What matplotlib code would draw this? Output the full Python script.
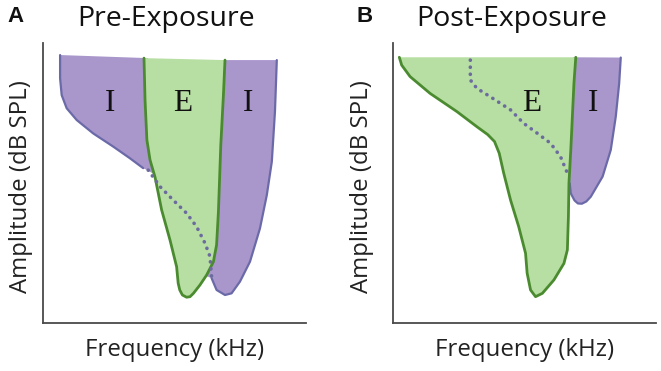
import numpy as np
import matplotlib
matplotlib.use("Agg")
import matplotlib.pyplot as plt

# ---------------- data (schematic tuning curves, arbitrary units 0-100) ----------------
# Panel A: Pre-Exposure
a_exc_left_f = [38.4, 38.8, 39.5, 40.7, 42.6, 45.1, 48.3, 50.8, 51.4, 52.0, 53.0, 54.6]
a_exc_left_a = [94.6, 79.6, 65.4, 58.2, 52.1, 40.4, 29.6, 20.1, 14.2, 11.8, 10.0, 9.2]
a_exc_right_f = [55.9, 57.2, 59.7, 62.2, 64.8, 66.0, 66.7, 67.6, 68.6, 69.2]
a_exc_right_a = [9.4, 10.6, 13.6, 17.1, 21.9, 27.9, 39.8, 63.6, 81.4, 93.9]

a_inh_low_f = [6.5, 6.5, 7.1, 9.0, 12.8, 19.1, 26.7, 33.1, 38.1, 40.0]
a_inh_low_a = [95.7, 87.4, 81.4, 76.7, 72.5, 67.7, 63.0, 58.8, 55.3, 54.4]

a_inh_high_f = [64.1, 66.0, 69.2, 71.7, 74.9, 78.7, 82.5, 85.1, 87.0, 88.2, 88.9]
a_inh_high_a = [16.0, 11.8, 10.0, 10.6, 14.8, 21.9, 33.8, 45.7, 57.6, 75.5, 93.9]

a_hidden_f = [40.0, 44.5, 49.5, 54.6, 58.4, 61.6, 63.5, 64.1]
a_hidden_a = [54.6, 48.7, 43.9, 39.2, 34.4, 28.5, 23.7, 16.5]

# Panel B: Post-Exposure
b_exc_left_f = [2.4, 3.3, 6.5, 14.1, 24.3, 31.9, 36.0, 38.6, 40.4, 42.1, 44.7, 47.8, 50.4, 51.0, 52.3, 54.2]
b_exc_left_a = [94.9, 92.1, 88.0, 82.0, 75.5, 70.1, 67.3, 64.8, 60.6, 53.5, 43.9, 34.4, 24.9, 17.8, 11.8, 9.4]
b_exc_right_f = [56.8, 61.2, 65.0, 66.3, 66.7, 66.9, 67.6, 68.2, 68.8, 69.5]
b_exc_right_a = [10.6, 15.4, 21.3, 26.1, 38.0, 49.9, 61.8, 73.7, 85.6, 94.9]

b_inh_f = [86.6, 86.0, 84.7, 82.8, 79.7, 75.2, 73.5, 71.8, 70.3, 69.0, 67.6, 67.2]
b_inh_a = [94.8, 85.6, 73.7, 61.8, 52.3, 45.1, 43.4, 42.6, 42.7, 43.8, 46.3, 49.9]

b_hidden_f = [29.4, 29.4, 31.9, 37.0, 44.7, 49.7, 54.8, 59.9, 63.7, 66.3]
b_hidden_a = [93.9, 86.8, 83.8, 80.8, 76.1, 71.3, 67.8, 64.2, 59.4, 53.5]

a_labels = ["I", "E", "I"]
a_label_f = [25.5, 53.2, 77.9]
b_labels = ["E", "I"]
b_label_f = [52.9, 75.9]
label_amp = 78.3

titles = ["Pre-Exposure", "Post-Exposure"]
panel_letters = ["A", "B"]
xlabel = "Frequency (kHz)"
ylabel = "Amplitude (dB SPL)"

# ---------------- style ----------------
PURPLE_FILL = "#a996cb"
PURPLE_LINE = "#6b6aa8"
GREEN_FILL = "#b8dfa3"
GREEN_LINE = "#4b8b30"
DOT = "#6b6b9e"
SANS = ["Open Sans", "DejaVu Sans"]
SERIF = ["Liberation Serif", "DejaVu Serif"]

W, H = 661, 371
fig = plt.figure(figsize=(W / 100, H / 100), dpi=100)

def make_ax(left_px):
    ax = fig.add_axes([left_px / W, (H - 323) / H, 263 / W, 280 / H])
    ax.set_xlim(0, 100)
    ax.set_ylim(0, 100)
    for s in ["top", "right"]:
        ax.spines[s].set_visible(False)
    for s in ["left", "bottom"]:
        ax.spines[s].set_color("#4a4a4a")
        ax.spines[s].set_linewidth(1.3)
    ax.set_xticks([])
    ax.set_yticks([])
    ax.patch.set_alpha(0)
    return ax

def dotted(ax, f, a):
    ax.plot(f, a, color=DOT, lw=2.6, linestyle=(0, (0.05, 1.9)),
            dash_capstyle="round", solid_capstyle="round", zorder=5)

def outline(ax, f, a, color, lw):
    ax.plot(f, a, color=color, lw=lw, zorder=4, solid_capstyle="round",
            solid_joinstyle="round")

axA = make_ax(43)
axB = make_ax(393)

# ---- Panel A ----
elf, ela = np.array(a_exc_left_f), np.array(a_exc_left_a)
erf, era = np.array(a_exc_right_f), np.array(a_exc_right_a)
m = ela >= 50
poly_f = list(a_inh_low_f) + list(elf[m][::-1] + 1.5)
poly_a = list(a_inh_low_a) + list(ela[m][::-1])
axA.fill(poly_f, poly_a, color=PURPLE_FILL, lw=0, zorder=1)
outline(axA, a_inh_low_f[:-1], a_inh_low_a[:-1], PURPLE_LINE, 1.6)
m = era >= 15
poly_f = list(a_inh_high_f) + list(erf[m][::-1] - 1.0)
poly_a = list(a_inh_high_a) + list(era[m][::-1])
axA.fill(poly_f, poly_a, color=PURPLE_FILL, lw=0, zorder=1)
outline(axA, a_inh_high_f, a_inh_high_a, PURPLE_LINE, 1.6)
ef = list(a_exc_left_f) + list(a_exc_right_f)
ea = list(a_exc_left_a) + list(a_exc_right_a)
axA.fill(ef, ea, color=GREEN_FILL, lw=0, zorder=2)
outline(axA, ef, ea, GREEN_LINE, 2.0)
dotted(axA, a_hidden_f, a_hidden_a)
for t, f in zip(a_labels, a_label_f):
    axA.text(f, label_amp, t, ha="center", va="center", fontsize=22.5,
             family=SERIF, color="#111111", zorder=6)

# ---- Panel B ----
erf, era = np.array(b_exc_right_f), np.array(b_exc_right_a)
m = era >= 45
poly_f = list(b_inh_f) + list(erf[m] - 1.0)
poly_a = list(b_inh_a) + list(era[m])
axB.fill(poly_f, poly_a, color=PURPLE_FILL, lw=0, zorder=1)
outline(axB, b_inh_f, b_inh_a, PURPLE_LINE, 1.6)
ef = list(b_exc_left_f) + list(b_exc_right_f)
ea = list(b_exc_left_a) + list(b_exc_right_a)
axB.fill(ef, ea, color=GREEN_FILL, lw=0, zorder=2)
outline(axB, ef, ea, GREEN_LINE, 2.0)
dotted(axB, b_hidden_f, b_hidden_a)
for t, f in zip(b_labels, b_label_f):
    axB.text(f, label_amp, t, ha="center", va="center", fontsize=22.5,
             family=SERIF, color="#111111", zorder=6)

# ---- titles and labels ----
title_x = [166, 512]
letter_x = [15, 365]
ylab_x = [21, 362]
xlab_x = [175, 525]
for i in range(2):
    fig.text(title_x[i] / W, 1 - 19 / H, titles[i], ha="center", va="center",
             fontsize=20.5, family=SANS, color="#111111")
    fig.text(letter_x[i] / W, 1 - 17 / H, panel_letters[i], ha="center",
             va="center", fontsize=16, family=["Liberation Sans", "DejaVu Sans"],
             weight="bold", color="#111111")
    fig.text(ylab_x[i] / W, 1 - 187 / H, ylabel, ha="center", va="center",
             rotation=90, fontsize=17.3, family=SANS, color="#222222")
    fig.text(xlab_x[i] / W, 1 - 350 / H, xlabel, ha="center", va="center",
             fontsize=17.3, family=SANS, color="#222222")

fig.savefig("out.png", dpi=100)
